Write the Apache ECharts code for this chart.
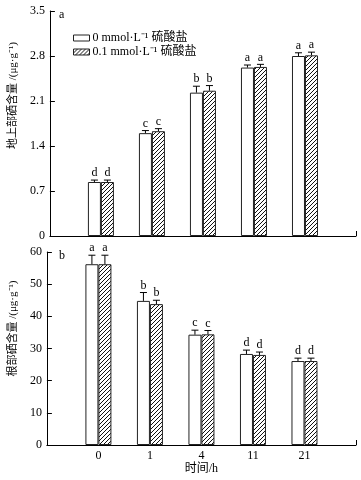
<!DOCTYPE html>
<html>
<head>
<meta charset="utf-8">
<script src="https://cdn.jsdelivr.net/npm/echarts@6/dist/echarts.min.js"></script>
<style>
  html, body { margin: 0; padding: 0; background: #fff; }
  #chart { width: 361px; height: 480px; }
</style>
</head>
<body>
<div id="chart"></div>
<script>
const times = ['0', '1', '4', '11', '21']
const seriesNames = ['0 mmol·L⁻¹ 硫酸盐', '0.1 mmol·L⁻¹ 硫酸盐']

// 地上部
const shootCtrl = [0.84, 1.60, 2.23, 2.62, 2.80]
const shootCtrlErr = [0.03, 0.04, 0.10, 0.04, 0.05]
const shootCtrlSig = ['d', 'c', 'b', 'a', 'a']
const shootSel = [0.84, 1.63, 2.26, 2.63, 2.81]
const shootSelErr = [0.03, 0.04, 0.08, 0.04, 0.05]
const shootSelSig = ['d', 'c', 'b', 'a', 'a']

// 根部
const rootCtrl = [56.2, 44.8, 34.3, 28.3, 26.1]
const rootCtrlErr = [2.8, 2.6, 1.4, 1.2, 0.9]
const rootCtrlSig = ['a', 'b', 'c', 'd', 'd']
const rootSel = [56.2, 43.8, 34.4, 28.0, 26.1]
const rootSelErr = [2.8, 1.2, 1.2, 0.9, 0.9]
const rootSelSig = ['a', 'b', 'c', 'd', 'd']

const shootTicks = [0, 0.7, 1.4, 2.1, 2.8, 3.5]
const rootTicks = [0, 10, 20, 30, 40, 50, 60]

const FONT = '"Liberation Serif", "Noto Sans CJK SC", serif'
const categories = ['', ...times, '']

// hatch pattern
const hatch = document.createElement('canvas')
hatch.width = hatch.height = 4
const hctx = hatch.getContext('2d')
hctx.fillStyle = '#fff'
hctx.fillRect(0, 0, 4, 4)
hctx.strokeStyle = '#111'
hctx.lineWidth = 1
hctx.beginPath()
hctx.moveTo(0, 4); hctx.lineTo(4, 0)
hctx.moveTo(-1, 1); hctx.lineTo(1, -1)
hctx.moveTo(3, 5); hctx.lineTo(5, 3)
hctx.stroke()

const BAR_W = 13

function pairs(vals, errs) {
  return vals.map((v, i) => [i + 1, v, errs[i]])
}

function errSeries(grid, vals, errs, sig, shift) {
  return {
    type: 'custom',
    xAxisIndex: grid,
    yAxisIndex: grid,
    z: 5,
    silent: true,
    data: pairs(vals, errs),
    encode: { x: 0, y: 1 },
    renderItem: (params, api) => {
      const base = api.coord([api.value(0), api.value(1)])
      const top = api.coord([api.value(0), api.value(1) + api.value(2)])
      const cx = base[0] + shift
      return {
        type: 'group',
        children: [
          { type: 'line', shape: { x1: cx, y1: base[1], x2: cx, y2: top[1] }, style: { stroke: '#000', lineWidth: 1 } },
          { type: 'line', shape: { x1: cx - 3.5, y1: top[1], x2: cx + 3.5, y2: top[1] }, style: { stroke: '#000', lineWidth: 1 } },
          {
            type: 'text', x: cx, y: top[1] - 1,
            style: { text: sig[params.dataIndex], textAlign: 'center', textVerticalAlign: 'bottom', font: '12px ' + FONT, fill: '#000' }
          }
        ]
      }
    }
  }
}

function barSeries(grid, name, vals, errs, hatched) {
  return {
    type: 'bar',
    name: name,
    xAxisIndex: grid,
    yAxisIndex: grid,
    barWidth: BAR_W,
    barGap: '0%',
    data: pairs(vals, errs),
    encode: { x: 0, y: 1 },
    itemStyle: {
      color: hatched ? { image: hatch, repeat: 'repeat' } : '#fff',
      borderColor: '#222',
      borderWidth: 1
    }
  }
}

function xAxis(grid, showLabels) {
  return {
    type: 'category',
    gridIndex: grid,
    data: categories,
    boundaryGap: false,
    axisLine: { lineStyle: { color: '#000', width: 1 } },
    axisTick: { inside: true, length: 5, interval: (i) => i === categories.length - 1, lineStyle: { color: '#000' } },
    axisLabel: { show: showLabels, interval: 0, color: '#000', fontSize: 12, fontFamily: FONT, margin: 5 },
    name: showLabels ? '时间/h' : '',
    nameLocation: 'middle',
    nameGap: 13,
    nameTextStyle: { color: '#000', fontSize: 12, fontFamily: FONT }
  }
}

function yAxis(grid, ticks, name, shiftUp) {
  return {
    type: 'value',
    gridIndex: grid,
    min: ticks[0],
    max: ticks[ticks.length - 1],
    interval: ticks[1] - ticks[0],
    axisLine: { show: true, lineStyle: { color: '#000', width: 1 } },
    axisTick: { show: true, inside: true, length: 5, lineStyle: { color: '#000' } },
    axisLabel: { color: '#000', fontSize: 12, fontFamily: FONT, margin: 5 },
    splitLine: { show: false },
    name: name,
    nameLocation: 'middle',
    nameGap: 26,
    nameTextStyle: { color: '#000', fontSize: 11, fontFamily: FONT, padding: [0, 0, 0, shiftUp] }
  }
}

const chart = echarts.init(document.getElementById('chart'))

chart.setOption({
  animation: false,
  backgroundColor: '#fff',
  title: [
    { text: 'a', left: 54, top: 4, textStyle: { fontSize: 12, fontWeight: 'normal', fontFamily: FONT, color: '#000' } },
    { text: 'b', left: 54, top: 245, textStyle: { fontSize: 12, fontWeight: 'normal', fontFamily: FONT, color: '#000' } }
  ],
  legend: {
    left: 73,
    top: 32,
    padding: 0,
    orient: 'vertical',
    icon: 'rect',
    itemWidth: 16,
    itemHeight: 6,
    itemGap: 2,
    itemStyle: { borderWidth: 1, borderColor: '#222' },
    data: seriesNames,
    textStyle: { color: '#000', fontSize: 12, fontFamily: FONT, padding: [0, 0, 0, -2] }
  },
  grid: [
    { left: 41, right: 5, top: 11, height: 225 },
    { left: 41, right: 5, top: 252, height: 193 }
  ],
  xAxis: [xAxis(0, false), xAxis(1, true)],
  yAxis: [
    yAxis(0, shootTicks, '地上部硒含量 /(μg·g⁻¹)', 56),
    yAxis(1, rootTicks, '根部硒含量 /(μg·g⁻¹)', 40)
  ],
  series: [
    barSeries(0, seriesNames[0], shootCtrl, shootCtrlErr, false),
    barSeries(0, seriesNames[1], shootSel, shootSelErr, true),
    barSeries(1, seriesNames[0], rootCtrl, rootCtrlErr, false),
    barSeries(1, seriesNames[1], rootSel, rootSelErr, true),
    errSeries(0, shootCtrl, shootCtrlErr, shootCtrlSig, -BAR_W / 2),
    errSeries(0, shootSel, shootSelErr, shootSelSig, BAR_W / 2),
    errSeries(1, rootCtrl, rootCtrlErr, rootCtrlSig, -BAR_W / 2),
    errSeries(1, rootSel, rootSelErr, rootSelSig, BAR_W / 2)
  ]
})
</script>
</body>
</html>
